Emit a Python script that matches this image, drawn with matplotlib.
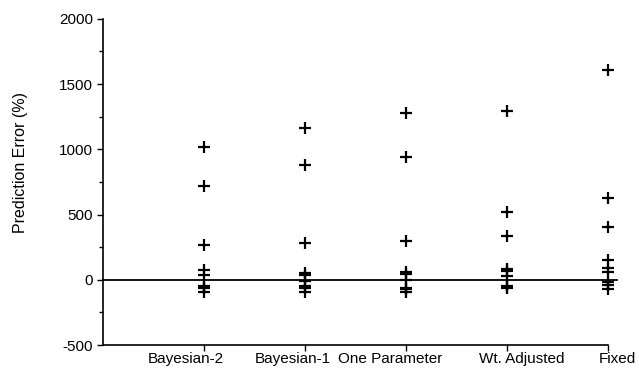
import numpy as np
import matplotlib
matplotlib.use("Agg")
import matplotlib.pyplot as plt
import matplotlib.transforms as mtransforms

plt.rcParams['font.family'] = ['Liberation Sans', 'DejaVu Sans']
plt.rcParams['axes.unicode_minus'] = False

# methods and prediction errors (%)
methods = ['Bayesian-2', 'Bayesian-1', 'One Parameter', 'Wt. Adjusted', 'Fixed']
bayes2 = [1020, 720, 270, 75, 40, -45, -55, -65, -90]
bayes1 = [1165, 880, 280, 50, 35, -10, -50, -65, -90]
one_par = [1275, 940, 295, 60, 45, 0, -60, -70, -95]
wt_adj = [1290, 520, 335, 85, 70, 30, -45, -55, -65]
fixed = [1610, 625, 405, 155, 90, 60, -15, -40, -70]
errors = [bayes2, bayes1, one_par, wt_adj, fixed]

fig = plt.figure(figsize=(6.39, 3.69), dpi=100)
ax = fig.add_axes([0.161, 0.065, 0.79, 0.884])

for i, vals in enumerate(errors):
    xs = np.full(len(vals), i + 1)
    ax.plot(xs, vals, '+', color='black', markersize=8.5, mew=1.6, clip_on=False)

# zero line runs a bit past the last category
ax.plot([0, 5.09], [0, 0], color='black', lw=1.3, clip_on=False)

ax.set_xlim(0, 5)
ax.set_ylim(-500, 2000)
ax.set_yticks(np.arange(-500, 2001, 500))
ax.set_yticks(np.arange(-500, 2001, 250), minor=True)
ax.set_xticks(np.arange(1, 6))
ax.set_xticklabels(methods)

ax.spines['top'].set_visible(False)
ax.spines['right'].set_visible(False)
ax.spines['left'].set_linewidth(1.2)
ax.spines['bottom'].set_linewidth(1.2)
ax.tick_params(axis='both', which='major', length=4, width=1, labelsize=11, pad=3)
ax.tick_params(axis='x', which='major', pad=1)
ax.tick_params(axis='y', which='minor', length=3, width=1)
ax.set_ylabel('Prediction Error (%)', fontsize=11.5)
ax.yaxis.set_label_coords(-0.148, 0.56)

# labels in the original sit a little off their ticks
shifts = [-18, -12, -16, 15, 10]
for lab, dx in zip(ax.get_xticklabels(), shifts):
    lab.set_transform(lab.get_transform() + mtransforms.ScaledTranslation(dx / 100, 0, fig.dpi_scale_trans))

fig.savefig('out.png', dpi=100)
